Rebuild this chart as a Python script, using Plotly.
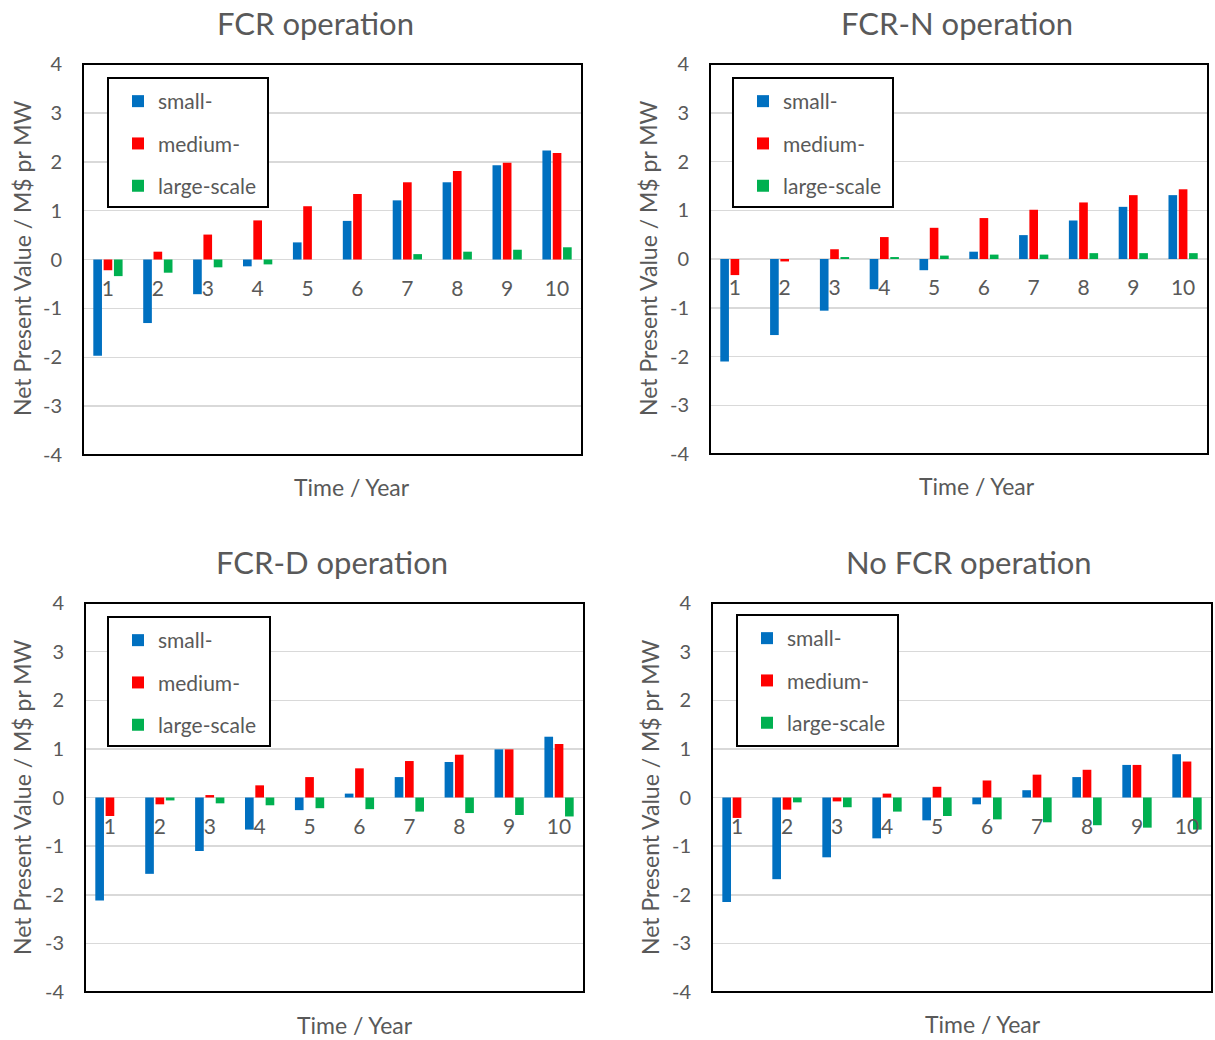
import plotly.graph_objects as go

W, H = 1215, 1040

years = ["1", "2", "3", "4", "5", "6", "7", "8", "9", "10"]
series_names = ["small-", "medium-", "large-scale"]
series_colors = ["#0070C0", "#FF0000", "#00B050"]

panel_titles = ["FCR operation", "FCR-N operation", "FCR-D operation", "No FCR operation"]

fcr_small = [-1.97, -1.30, -0.71, -0.14, 0.35, 0.79, 1.21, 1.58, 1.93, 2.23]
fcr_medium = [-0.22, 0.16, 0.51, 0.80, 1.09, 1.34, 1.58, 1.81, 1.98, 2.18]
fcr_large = [-0.34, -0.27, -0.16, -0.10, 0.0, 0.0, 0.11, 0.16, 0.20, 0.25]

fcrn_small = [-2.10, -1.56, -1.06, -0.62, -0.23, 0.15, 0.49, 0.79, 1.07, 1.31]
fcrn_medium = [-0.33, -0.05, 0.20, 0.45, 0.64, 0.84, 1.01, 1.16, 1.31, 1.43]
fcrn_large = [0.0, 0.0, 0.04, 0.04, 0.07, 0.09, 0.09, 0.12, 0.12, 0.12]

fcrd_small = [-2.12, -1.57, -1.10, -0.66, -0.26, 0.08, 0.42, 0.73, 0.99, 1.25]
fcrd_medium = [-0.38, -0.14, 0.05, 0.25, 0.42, 0.60, 0.75, 0.88, 0.99, 1.10]
fcrd_large = [0.0, -0.06, -0.12, -0.16, -0.22, -0.24, -0.29, -0.32, -0.36, -0.39]

nofcr_small = [-2.15, -1.68, -1.23, -0.84, -0.47, -0.14, 0.15, 0.42, 0.67, 0.89]
nofcr_medium = [-0.42, -0.25, -0.08, 0.08, 0.22, 0.35, 0.47, 0.57, 0.67, 0.74]
nofcr_large = [0.0, -0.10, -0.20, -0.29, -0.38, -0.45, -0.51, -0.57, -0.62, -0.66]

y_ticks = [-4, -3, -2, -1, 0, 1, 2, 3, 4]
y_ticktext = ["-4", "-3", "-2", "-1", "0", "1", "2", "3", "4"]

panels_data = [
    [fcr_small, fcr_medium, fcr_large],
    [fcrn_small, fcrn_medium, fcrn_large],
    [fcrd_small, fcrd_medium, fcrd_large],
    [nofcr_small, nofcr_medium, nofcr_large],
]

FONT = "Lato"
TXT = "#595959"
GRID = "#D9D9D9"


def px(x):
    return x / W


def py(y):
    return 1 - y / H


# plot frames in picture pixels: (left, right, top, bottom)
frames = [(83, 582, 64, 455), (710, 1208, 64, 454), (85, 584, 603, 992), (712, 1212, 603, 992)]
legend_boxes = [(108, 268, 78, 207), (733, 893, 78, 207), (108, 270, 617, 746), (737, 898, 615, 746)]
title_pos = [(315, 23), (957, 23), (332, 562), (969, 562)]
xtitle_pos = [(352, 487), (977, 486), (355, 1025), (983, 1024)]
ytitle_pos = [(22, 258), (648, 258), (22, 797), (650, 797)]

fig = go.Figure()
layout = dict(
    template="none",
    width=W, height=H, autosize=False,
    margin=dict(l=0, r=0, t=0, b=0, pad=0, autoexpand=False),
    paper_bgcolor="white", plot_bgcolor="white",
    font=dict(family=FONT, color=TXT, size=18),
    barmode="group", bargap=0.38, bargroupgap=0.16,
    showlegend=True, shapes=[], annotations=[],
)

for i, data in enumerate(panels_data):
    n = "" if i == 0 else str(i + 1)
    xa, ya = "x" + n, "y" + n
    lg = "legend" + n
    for name, col, vals in zip(series_names, series_colors, data):
        fig.add_trace(go.Bar(
            x=years, y=vals, name=name, marker=dict(color=col, line=dict(width=0)),
            xaxis=xa, yaxis=ya, legend=lg, legendgroup=f"{i}-{name}",
        ))
    l, r, t, b = frames[i]
    ydom = [py(b), py(t)]
    layout["xaxis" + n] = dict(
        domain=[px(l), px(r)], anchor="free", position=(ydom[0] + ydom[1]) / 2,
        type="category", categoryorder="array", categoryarray=years,
        showline=False, showgrid=False, zeroline=False, ticks="", automargin=False,
        tickfont=dict(size=21, color=TXT, family=FONT), ticklabelstandoff=14,
    )
    layout["yaxis" + n] = dict(
        domain=ydom, anchor=xa, range=[-4, 4], tickvals=y_ticks, ticktext=y_ticktext,
        showgrid=True, gridcolor=GRID, gridwidth=1.5,
        zeroline=True, zerolinecolor=GRID, zerolinewidth=1.5,
        showline=False, ticks="", ticklabelstandoff=20, automargin=False,
        tickfont=dict(size=20, color=TXT, family=FONT),
    )
    # plot frame
    layout["shapes"].append(dict(type="rect", xref=xa + " domain", yref=ya + " domain",
                                 x0=0, x1=1, y0=0, y1=1, line=dict(color="black", width=2),
                                 layer="above"))
    # legend box
    bl, br, bt, bb = legend_boxes[i]
    layout["shapes"].append(dict(type="rect", xref="paper", yref="paper",
                                 x0=px(bl), x1=px(br), y0=py(bb), y1=py(bt),
                                 line=dict(color="black", width=2), fillcolor="white",
                                 layer="above"))
    layout[lg] = dict(x=px(bl + 10), y=py(bt + 3), xanchor="left", yanchor="top",
                      bgcolor="rgba(0,0,0,0)", borderwidth=0, tracegroupgap=12,
                      font=dict(size=21, color=TXT, family=FONT))
    tx, ty = title_pos[i]
    layout["annotations"].append(dict(text=panel_titles[i], x=px(tx), y=py(ty), xref="paper",
                                      yref="paper", showarrow=False, xanchor="center",
                                      yanchor="middle",
                                      font=dict(size=31, color=TXT, family=FONT)))
    xx, xy = xtitle_pos[i]
    layout["annotations"].append(dict(text="Time / Year", x=px(xx), y=py(xy), xref="paper",
                                      yref="paper", showarrow=False, xanchor="center",
                                      yanchor="middle",
                                      font=dict(size=23, color=TXT, family=FONT)))
    yx, yy = ytitle_pos[i]
    layout["annotations"].append(dict(text="Net Present Value / M$ pr MW", x=px(yx), y=py(yy),
                                      xref="paper", yref="paper", showarrow=False, textangle=-90,
                                      xanchor="center", yanchor="middle",
                                      font=dict(size=23, color=TXT, family=FONT)))

fig.update_layout(**layout)
page_css = ("document.body.style.margin='0';document.body.style.padding='0';"
            "document.body.style.overflow='hidden';"
            "document.documentElement.style.overflow='hidden';")
fig.write_html("out.html", post_script=page_css,
               config={"displayModeBar": False, "staticPlot": True})
